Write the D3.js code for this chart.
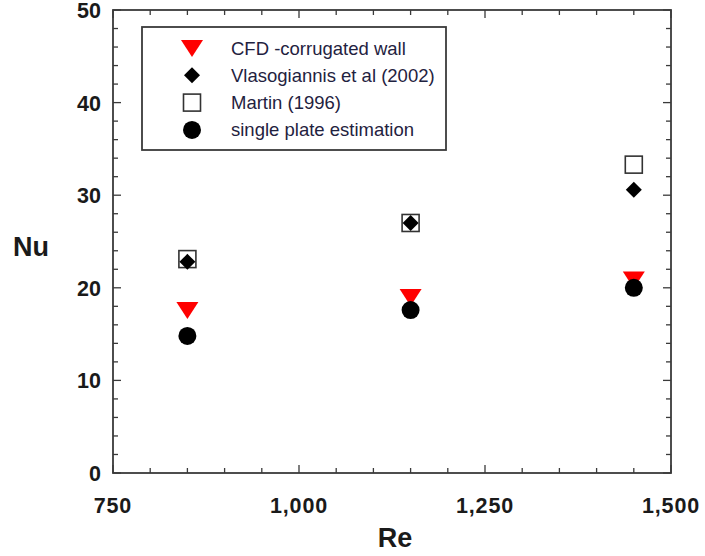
<!DOCTYPE html>
<html>
<head>
<meta charset="utf-8">
<script src="https://cdn.jsdelivr.net/npm/d3@7"></script>
<style>
  html, body { margin: 0; padding: 0; background: #fff; }
  svg text { font-family: "Liberation Sans", Arial, sans-serif; }
</style>
</head>
<body>
<div id="chart"></div>
<script>
// ── Data ─────────────────────────────────────
const RE_VALUES   = [850, 1150, 1450];
const CFD_NU      = [17.6, 19.0, 20.9];
const VLASO_NU    = [22.8, 27.0, 30.6];
const MARTIN_NU   = [23.1, 27.0, 33.3];
const SINGLE_NU   = [14.8, 17.6, 20.0];
const X_TICKS     = [750, 1000, 1250, 1500];
const Y_TICKS     = [0, 10, 20, 30, 40, 50];
const LEGEND_NAMES = ["CFD -corrugated wall", "Vlasogiannis et al (2002)", "Martin (1996)", "single plate estimation"];

(function () {
  const W = 705, H = 556;
  const margin = { top: 10, right: 34, bottom: 83, left: 113 };
  const width  = W - margin.left - margin.right;
  const height = H - margin.top - margin.bottom;
  const axisColor = "#3a3a3a";

  const svg = d3.select("#chart").append("svg").attr("width", W).attr("height", H);
  const g = svg.append("g").attr("transform", `translate(${margin.left},${margin.top})`);

  const x = d3.scaleLinear().domain([750, 1500]).range([0, width]);
  const y = d3.scaleLinear().domain([0, 50]).range([height, 0]);

  // Ticks (inward, mirrored on all sides)
  const xMinor = d3.range(750, 1501, 50);
  const yMinor = d3.range(0, 51, 2);
  const tickG = g.append("g").attr("stroke", axisColor).attr("stroke-width", 1.3);
  xMinor.forEach(v => {
    const len = v % 250 === 0 ? 8 : 5;
    tickG.append("line").attr("x1", x(v)).attr("x2", x(v)).attr("y1", height).attr("y2", height - len);
    tickG.append("line").attr("x1", x(v)).attr("x2", x(v)).attr("y1", 0).attr("y2", len);
  });
  yMinor.forEach(v => {
    const len = v % 10 === 0 ? 8 : 5;
    tickG.append("line").attr("y1", y(v)).attr("y2", y(v)).attr("x1", 0).attr("x2", len);
    tickG.append("line").attr("y1", y(v)).attr("y2", y(v)).attr("x1", width).attr("x2", width - len);
  });

  // Frame
  g.append("rect").attr("width", width).attr("height", height)
    .attr("fill", "none").attr("stroke", axisColor).attr("stroke-width", 1.8);

  // Tick labels
  g.selectAll(".xl").data(X_TICKS).join("text")
    .attr("x", d => x(d)).attr("y", height + 40)
    .attr("text-anchor", "middle").attr("font-size", "21.5px").attr("font-weight", "bold")
    .attr("letter-spacing", "0.8px")
    .attr("fill", "#1a1a1a").text(d => d3.format(",")(d));
  g.selectAll(".yl").data(Y_TICKS).join("text")
    .attr("x", -12).attr("y", d => y(d) + 8)
    .attr("text-anchor", "end").attr("font-size", "21.5px").attr("font-weight", "bold")
    .attr("fill", "#1a1a1a").text(d => d);

  // Axis titles
  svg.append("text").attr("x", 395).attr("y", 547).attr("text-anchor", "middle")
    .attr("font-size", "27px").attr("font-weight", "bold").attr("fill", "#1a1a1a").text("Re");
  svg.append("text").attr("x", 31).attr("y", 256).attr("text-anchor", "middle")
    .attr("font-size", "27px").attr("font-weight", "bold").attr("fill", "#1a1a1a").text("Nu");

  // Marker painters
  function drawTriangle(sel, cx, cy) {
    sel.append("path").attr("d", "M-11,-8L11,-8L0,9Z")
      .attr("transform", `translate(${cx},${cy})`).attr("fill", "#ff0000");
  }
  function drawDiamond(sel, cx, cy) {
    sel.append("path").attr("d", "M0,-8L8,0L0,8L-8,0Z")
      .attr("transform", `translate(${cx},${cy})`).attr("fill", "#000");
  }
  function drawSquare(sel, cx, cy) {
    sel.append("rect").attr("x", cx - 8.5).attr("y", cy - 8.5).attr("width", 17).attr("height", 17)
      .attr("fill", "none").attr("stroke", "#333").attr("stroke-width", 1.6);
  }
  function drawCircle(sel, cx, cy) {
    sel.append("circle").attr("cx", cx).attr("cy", cy).attr("r", 9).attr("fill", "#000");
  }

  // Points
  const pts = g.append("g");
  RE_VALUES.forEach((re, i) => drawSquare(pts, x(re), y(MARTIN_NU[i])));
  RE_VALUES.forEach((re, i) => drawDiamond(pts, x(re), y(VLASO_NU[i])));
  RE_VALUES.forEach((re, i) => drawTriangle(pts, x(re), y(CFD_NU[i])));
  RE_VALUES.forEach((re, i) => drawCircle(pts, x(re), y(SINGLE_NU[i])));

  // Legend
  const leg = svg.append("g");
  leg.append("rect").attr("x", 142).attr("y", 27).attr("width", 304).attr("height", 123)
    .attr("fill", "#fff").attr("stroke", axisColor).attr("stroke-width", 1.8);
  const painters = [drawTriangle, drawDiamond, drawSquare, drawCircle];
  LEGEND_NAMES.forEach((name, i) => {
    const cy = 48 + i * 27.3;
    painters[i](leg, 192, cy);
    leg.append("text").attr("x", 231).attr("y", cy + 6.5)
      .attr("font-size", "18.5px").attr("fill", "#1f2240").text(name);
  });
})();
</script>
</body>
</html>
